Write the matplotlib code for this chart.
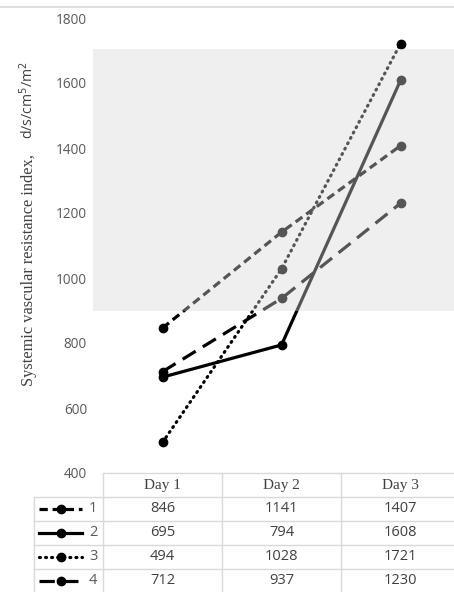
import matplotlib
matplotlib.use("Agg")
import matplotlib.pyplot as plt
from matplotlib.patches import Rectangle
from matplotlib.lines import Line2D
from matplotlib.transforms import blended_transform_factory

# data
days = ["Day 1", "Day 2", "Day 3"]
series_names = ["1", "2", "3", "4"]
s1 = [846, 1141, 1407]
s2 = [695, 794, 1608]
s3 = [494, 1028, 1721]
s4 = [712, 937, 1230]
yticks = [400, 600, 800, 1000, 1200, 1400, 1600, 1800]

W, H = 454, 592
fig = plt.figure(figsize=(W / 100, H / 100), dpi=100)


def fx(px):
    return px / W


def fy(py):
    return 1 - py / H


ax = fig.add_axes([fx(103), fy(473), fx(460) - fx(103), fy(18) - fy(473)])
ax.set_xlim(-0.5, 2.5)
ax.set_ylim(400, 1800)
for s in ax.spines.values():
    s.set_visible(False)
ax.set_xticks([])
ax.set_yticks(yticks)
ax.tick_params(axis="y", length=0, pad=11.5, labelsize=9.8, labelcolor="#595959")
for t in ax.get_yticklabels():
    t.set_fontfamily("Open Sans")

styles = [
    dict(linestyle=(0, (2.6, 1.5)), color="black"),
    dict(linestyle="-", color="black"),
    dict(linestyle=(0, (0.3, 1.6)), color="black", dash_capstyle="round"),
    dict(linestyle=(0, (4.8, 2.6)), color="black"),
]
all_series = [s1, s2, s3, s4]
x = list(range(len(days)))
for vals, st in zip(all_series, styles):
    ax.plot(x, vals, lw=2.3, marker="o", ms=6, clip_on=False, zorder=3, **st)

# grey overlay box (scan artefact)
btr = blended_transform_factory(fig.transFigure, ax.transData)
ax.add_patch(Rectangle((fx(93), 900), 1.2, 805, transform=btr, facecolor="#d7d7d7",
                       alpha=0.4, edgecolor="none", zorder=5, clip_on=False))

# top border line
fig.add_artist(Line2D([0, 1], [fy(7), fy(7)], color="#d9d9d9", lw=1.2))

# y label
fig.text(fx(29), fy(386), "Systemic vascular resistance index,", rotation=90,
         ha="center", va="bottom", fontsize=11.8, family="Liberation Serif", color="#404040")
fig.text(fx(28), fy(61), "d/s/cm$^5$/m$^2$", rotation=90,
         ha="center", va="top", fontsize=10.2, family="Open Sans", color="#404040")

# table
grid_c = "#d9d9d9"
col_edges = [103, 222, 341, 460]
row_edges = [473, 497, 521, 545, 569, 593]
fig.add_artist(Line2D([fx(103), fx(460)], [fy(473), fy(473)], color=grid_c, lw=1))
for ry in row_edges[1:]:
    fig.add_artist(Line2D([fx(34), fx(460)], [fy(ry), fy(ry)], color=grid_c, lw=1))
for cx in col_edges:
    fig.add_artist(Line2D([fx(cx), fx(cx)], [fy(473), fy(593)], color=grid_c, lw=1))
fig.add_artist(Line2D([fx(34), fx(34)], [fy(497), fy(593)], color=grid_c, lw=1))

ttr = blended_transform_factory(ax.transData, fig.transFigure)
for i, d in enumerate(days):
    fig.text(i, fy(485), d, transform=ttr, ha="center", va="center",
             fontsize=11, family="Liberation Serif", color="#404040")
for r, (name, vals, st) in enumerate(zip(series_names, all_series, styles)):
    yc = fy((row_edges[r + 1] + row_edges[r + 2]) / 2)
    for i, v in enumerate(vals):
        fig.text(i, yc, str(v), transform=ttr, ha="center", va="center",
                 fontsize=10.5, family="Open Sans", color="#404040")
    fig.add_artist(Line2D([fx(39), fx(61), fx(82)], [yc, yc, yc], lw=2.3,
                          marker="o", markevery=[1], ms=6, **st))
    fig.text(fx(93), yc, name, ha="center", va="center",
             fontsize=10.5, family="Open Sans", color="#595959")

fig.savefig("out.png", dpi=100)
